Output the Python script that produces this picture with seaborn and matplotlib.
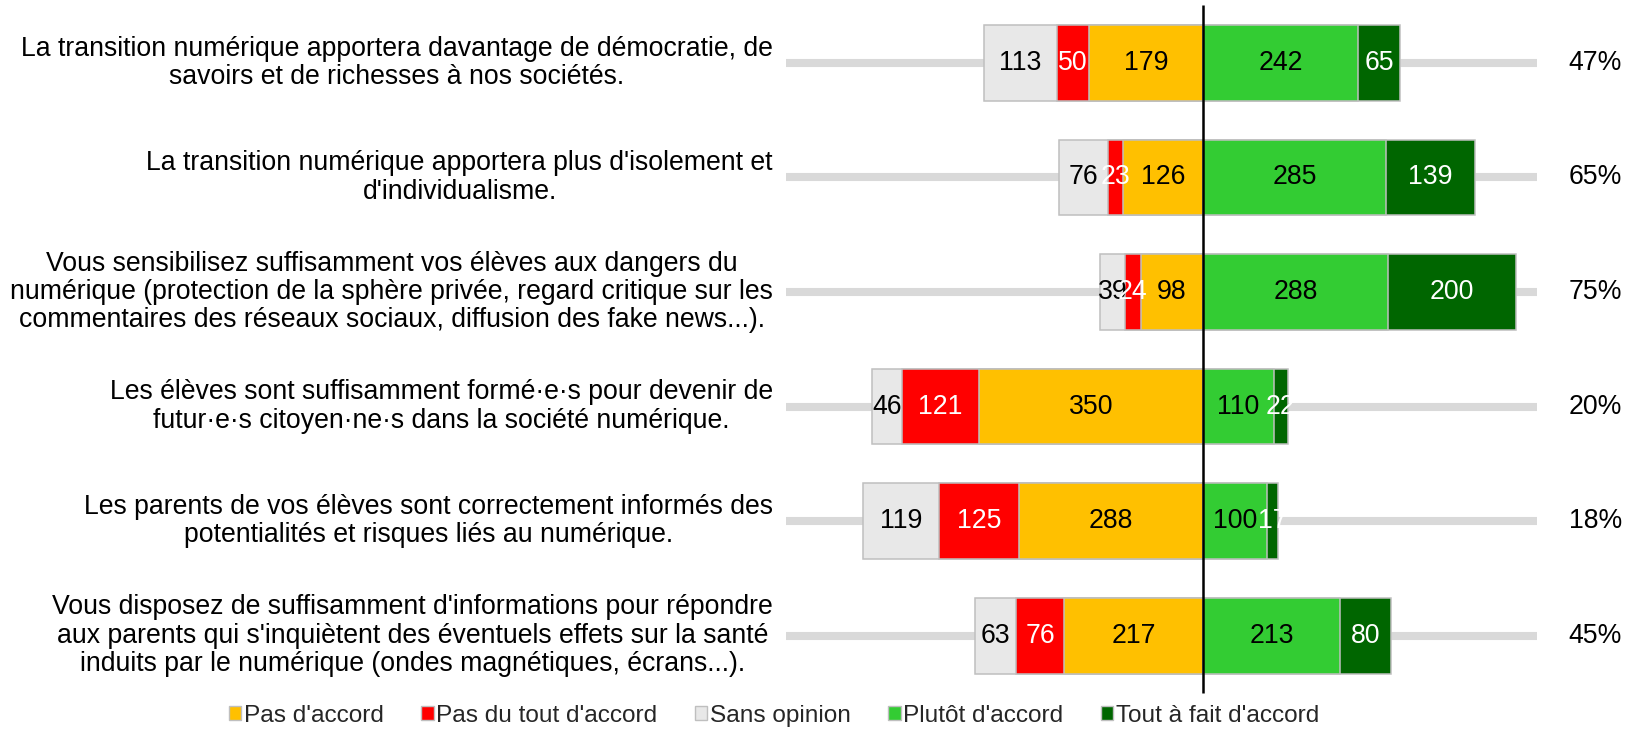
import matplotlib
matplotlib.use("Agg")
import matplotlib.pyplot as plt
from matplotlib.patches import Patch
import seaborn as sns
import pandas as pd

questions = [
    "La transition numérique apportera davantage de démocratie, de\nsavoirs et de richesses à nos sociétés.",
    "La transition numérique apportera plus d'isolement et\nd'individualisme.",
    "Vous sensibilisez suffisamment vos élèves aux dangers du\nnumérique (protection de la sphère privée, regard critique sur les\ncommentaires des réseaux sociaux, diffusion des fake news...).",
    "Les élèves sont suffisamment formé·e·s pour devenir de\nfutur·e·s citoyen·ne·s dans la société numérique.",
    "Les parents de vos élèves sont correctement informés des\npotentialités et risques liés au numérique.",
    "Vous disposez de suffisamment d'informations pour répondre\naux parents qui s'inquiètent des éventuels effets sur la santé\ninduits par le numérique (ondes magnétiques, écrans...).",
]
sans_opinion = [113, 76, 39, 46, 119, 63]
pas_du_tout = [50, 23, 24, 121, 125, 76]
pas_accord = [179, 126, 98, 350, 288, 217]
plutot = [242, 285, 288, 110, 100, 213]
tout_a_fait = [65, 139, 200, 22, 17, 80]
pct_accord = ["47%", "65%", "75%", "20%", "18%", "45%"]

c_pas = "#FFC000"
c_ptd = "#FF0000"
c_sans = "#E8E8E8"
c_plutot = "#33CC33"
c_tout = "#006600"
edge = "#BFBFBF"

sns.set_theme(style="white")
plt.rcParams["font.family"] = ["Liberation Sans", "DejaVu Sans"]
FS = 19.2

df = pd.DataFrame({
    "q": questions,
    "sans": sans_opinion,
    "ptd": pas_du_tout,
    "pas": pas_accord,
    "plutot": plutot,
    "tout": tout_a_fait,
})
df["left3"] = -(df["sans"] + df["ptd"] + df["pas"])
df["left2"] = -(df["ptd"] + df["pas"])
df["left1"] = -df["pas"]
df["right2"] = df["plutot"] + df["tout"]
df["right1"] = df["plutot"]

fig = plt.figure(figsize=(16.33, 7.29), dpi=100)
ax = fig.add_axes([0, 0, 1, 1])

# grey guide line behind each row
ax.hlines(range(len(df)), -651, 521, color="#D9D9D9", linewidth=5.8, zorder=0)

# stacked bars drawn outermost first, then overlaid
for col, color in [("left3", c_sans), ("left2", c_ptd), ("left1", c_pas),
                   ("right2", c_tout), ("right1", c_plutot)]:
    sns.barplot(data=df, x=col, y="q", orient="h", color=color, saturation=1,
                width=0.66, edgecolor=edge, linewidth=1.1, errorbar=None, ax=ax)

# value labels
for i, row in df.iterrows():
    segs = [
        (row["left3"], row["left2"], row["sans"], "black"),
        (row["left2"], row["left1"], row["ptd"], "white"),
        (row["left1"], 0, row["pas"], "black"),
        (0, row["right1"], row["plutot"], "black"),
        (row["right1"], row["right2"], row["tout"], "white"),
    ]
    for a, b, v, tc in segs:
        ax.text((a + b) / 2, i, str(v), ha="center", va="center",
                fontsize=FS, color=tc, zorder=5)
    ax.text(-672, i, row["q"], ha="right", va="center", multialignment="center",
            fontsize=FS, linespacing=1.12, color="black")
    ax.text(612, i, pct_accord[i], ha="center", va="center", fontsize=FS, color="black")

ax.vlines(0, -0.504, 5.5, color="black", linewidth=1.8, zorder=6)

ax.set_xlim(-1879, 671)
ax.set_ylim(5.813, -0.548)
ax.axis("off")

handles = [
    Patch(facecolor=c_pas, edgecolor=edge, label="Pas d'accord"),
    Patch(facecolor=c_ptd, edgecolor=edge, label="Pas du tout d'accord"),
    Patch(facecolor=c_sans, edgecolor=edge, label="Sans opinion"),
    Patch(facecolor=c_plutot, edgecolor=edge, label="Plutôt d'accord"),
    Patch(facecolor=c_tout, edgecolor=edge, label="Tout à fait d'accord"),
]
fig.legend(handles=handles, loc="center", bbox_to_anchor=(774 / 1633, 1 - 716 / 729),
           ncol=5, frameon=False, fontsize=17.6, handlelength=0.5, handleheight=0.5,
           handletextpad=0.1, columnspacing=1.55, borderaxespad=0)

fig.savefig("out.png", dpi=100)
